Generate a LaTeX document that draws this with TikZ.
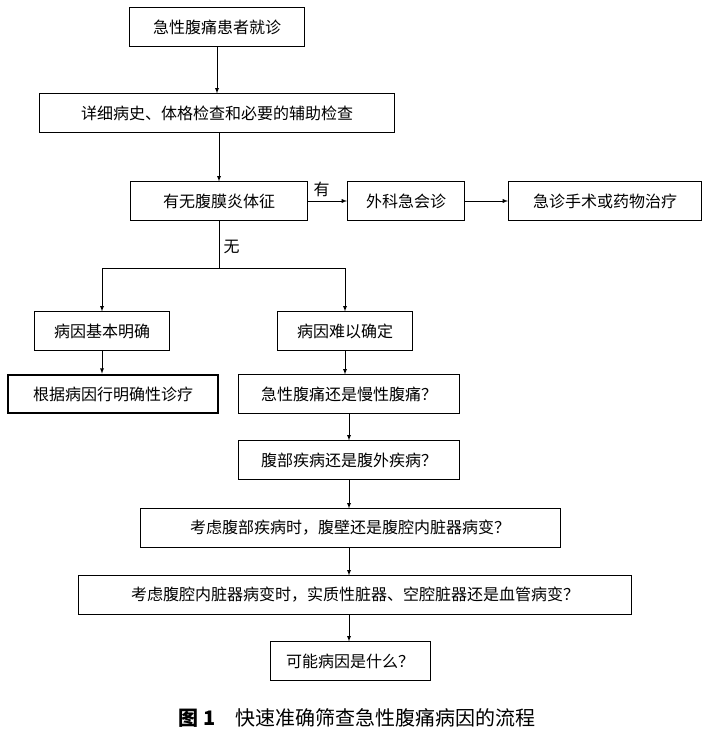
\documentclass[tikz,border=0pt]{standalone}
\usepackage{fontspec}
\setmainfont{Noto Sans CJK SC}
\usetikzlibrary{arrows}
\begin{document}
\begin{tikzpicture}[x=0.75pt,y=-0.75pt]
\tikzstyle{box} = [draw,inner sep=0pt,font=\fontsize{12}{14}\selectfont,minimum height=29pt]
\tikzstyle{flow} = [->,>=latex]
\useasboundingbox (0,0) rectangle (714,737);

\node[box,minimum width=131pt] (start) at (217,27) {急性腹痛患者就诊};
\node[box,minimum width=266pt] (hist) at (217,113) {详细病史、体格检查和必要的辅助检查};
\node[box,minimum width=133pt] (sign) at (219,201) {有无腹膜炎体征};
\node[box,minimum width=88pt] (cons) at (406,201) {外科急会诊};
\node[box,minimum width=145pt] (treat) at (605,201) {急诊手术或药物治疗};
\node[box,minimum width=101pt] (clear) at (102,331) {病因基本明确};
\node[box,minimum width=101pt] (unclear) at (345,331) {病因难以确定};
\node[box,minimum width=157pt,line width=1.5pt] (cure) at (113,394) {根据病因行明确性诊疗};
\node[box,minimum width=166pt] (q1) at (349,394) {急性腹痛还是慢性腹痛？};
\node[box,minimum width=166pt] (q2) at (349,460) {腹部疾病还是腹外疾病？};
\node[box,minimum width=315pt] (q3) at (350,528) {考虑腹部疾病时，腹壁还是腹腔内脏器病变？};
\node[box,minimum width=415pt] (q4) at (355,595) {考虑腹腔内脏器病变时，实质性脏器、空腔脏器还是血管病变？};
\node[box,minimum width=120pt] (q5) at (350,661) {可能病因是什么？};

\draw[flow] (start) -- (hist);
\draw[flow] (hist.south -| sign) -- (sign);
\draw[flow] (sign) -- node[above,pos=0.35,font=\fontsize{12}{14}\selectfont] {有} (cons);
\draw[flow] (cons) -- (treat);
\coordinate (split) at (sign.south |- 0,268);
\draw (sign) -- node[right,pos=0.55,font=\fontsize{12}{14}\selectfont] {无} (split);
\draw[flow] (split) -| (clear);
\draw[flow] (split) -| (unclear);
\draw[flow] (clear.south) -- (clear.south |- cure.north);
\draw[flow] (unclear.south) -- (unclear.south |- q1.north);
\draw[flow] (q1) -- (q2);
\draw[flow] (q2.south) -- (q2.south |- q3.north);
\draw[flow] (q3.south -| q2) -- (q2 |- q4.north);
\draw[flow] (q4.south -| q2) -- (q2 |- q5.north);

\node[font=\fontsize{15}{17}\selectfont] (cap) at (357,718) {\textbf{图 1}\quad 快速准确筛查急性腹痛病因的流程};
\end{tikzpicture}
\end{document}
